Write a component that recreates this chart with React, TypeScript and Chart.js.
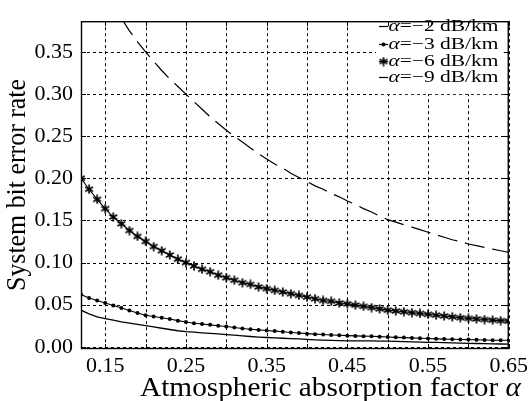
import React, { useEffect, useRef } from "react";
import { Chart, registerables } from "chart.js";

Chart.register(...registerables);

// ---- data ----
const xValues = [
  0.12, 0.13, 0.14, 0.15, 0.16, 0.17, 0.18, 0.19, 0.2, 0.21, 0.22, 0.23, 0.24, 0.25,
  0.26, 0.27, 0.28, 0.29, 0.3, 0.31, 0.32, 0.33, 0.34, 0.35, 0.36, 0.37, 0.38, 0.39,
  0.4, 0.41, 0.42, 0.43, 0.44, 0.45, 0.46, 0.47, 0.48, 0.49, 0.5, 0.51, 0.52, 0.53,
  0.54, 0.55, 0.56, 0.57, 0.58, 0.59, 0.6, 0.61, 0.62, 0.63, 0.64, 0.65,
];

const berMinus2 = [
  0.0434, 0.039, 0.0355, 0.0335, 0.0315, 0.0295, 0.028, 0.0265, 0.025, 0.0235, 0.022,
  0.0205, 0.019, 0.018, 0.0173, 0.0166, 0.016, 0.0153, 0.0145, 0.0138, 0.013, 0.0122,
  0.0115, 0.011, 0.0105, 0.0101, 0.0097, 0.0093, 0.0088, 0.0083, 0.0078, 0.0075, 0.0072,
  0.0071, 0.007, 0.0069, 0.0069, 0.0068, 0.0066, 0.0064, 0.0061, 0.0058, 0.0056, 0.0053,
  0.0051, 0.0048, 0.0046, 0.0043, 0.0041, 0.0039, 0.0037, 0.0035, 0.0033, 0.0031,
];

const berMinus3 = [
  0.062, 0.058, 0.055, 0.052, 0.049, 0.046, 0.043, 0.04, 0.0375, 0.036, 0.0345, 0.033,
  0.031, 0.0295, 0.028, 0.027, 0.026, 0.025, 0.024, 0.0228, 0.0217, 0.0208, 0.02, 0.0193,
  0.0186, 0.0178, 0.017, 0.0163, 0.0156, 0.015, 0.0145, 0.014, 0.0136, 0.0132, 0.0129,
  0.0126, 0.0124, 0.012, 0.0116, 0.0112, 0.0109, 0.0105, 0.0101, 0.0098, 0.0094, 0.0091,
  0.0089, 0.0087, 0.0085, 0.0083, 0.008, 0.0078, 0.0077, 0.0077,
];

const berMinus6 = [
  0.2, 0.187, 0.175, 0.164, 0.154, 0.146, 0.138, 0.131, 0.125, 0.119, 0.114, 0.109, 0.104,
  0.1, 0.096, 0.092, 0.089, 0.085, 0.082, 0.079, 0.076, 0.074, 0.071, 0.069, 0.067, 0.065,
  0.063, 0.061, 0.059, 0.057, 0.055, 0.054, 0.052, 0.051, 0.0495, 0.048, 0.0465, 0.045,
  0.0435, 0.0425, 0.0415, 0.0405, 0.0395, 0.0385, 0.0375, 0.0365, 0.0355, 0.0345, 0.0337,
  0.033, 0.0323, 0.0316, 0.031, 0.0305,
];

const berMinus9 = [
  null, null, null, null, null, 0.39, 0.375, 0.362, 0.35, 0.339, 0.328, 0.318, 0.309, 0.3,
  0.291, 0.282, 0.273, 0.265, 0.257, 0.25, 0.243, 0.236, 0.229, 0.223, 0.217, 0.212, 0.206,
  0.201, 0.196, 0.191, 0.187, 0.182, 0.178, 0.173, 0.169, 0.164, 0.16, 0.155, 0.151, 0.148,
  0.145, 0.142, 0.139, 0.136, 0.133, 0.13, 0.127, 0.125, 0.122, 0.12, 0.118, 0.116, 0.114,
  0.112,
];

const seriesLabels = ["−2", "−3", "−6", "−9"];
const xGridTicks = [0.15, 0.2, 0.25, 0.3, 0.35, 0.4, 0.45, 0.5, 0.55, 0.6, 0.65];
const xLabelTicks = [0.15, 0.25, 0.35, 0.45, 0.55, 0.65];
const yTicks = [0, 0.05, 0.1, 0.15, 0.2, 0.25, 0.3, 0.35];

const X_MIN = 0.12;
const X_MAX = 0.65;
const Y_MIN = -0.00265;
const Y_MAX = 0.3865;

const FONT = "'Liberation Serif', 'DejaVu Serif', serif";

function makeAsterisk(size: number, lw: number): HTMLCanvasElement {
  const c = document.createElement("canvas");
  c.width = size;
  c.height = size;
  const g = c.getContext("2d")!;
  const r = size / 2 - 0.5;
  const cx = size / 2;
  g.strokeStyle = "#000";
  g.lineWidth = lw;
  for (const ang of [90, 30, 150]) {
    const a = (ang * Math.PI) / 180;
    g.beginPath();
    g.moveTo(cx - r * Math.cos(a), cx - r * Math.sin(a));
    g.lineTo(cx + r * Math.cos(a), cx + r * Math.sin(a));
    g.stroke();
  }
  return c;
}

const pairs = (ys: (number | null)[]) =>
  xValues.map((x, i) => ({ x, y: ys[i] })).filter((p) => p.y !== null);

// draw prefix + italic "α" + rest, stretched horizontally to a target width
function drawAlphaText(
  ctx: CanvasRenderingContext2D,
  prefix: string,
  rest: string,
  size: number,
  targetWidth: number
) {
  ctx.font = `${size}px ${FONT}`;
  const pw = ctx.measureText(prefix).width;
  const rw = ctx.measureText(rest).width;
  ctx.font = `italic ${size}px ${FONT}`;
  const aw = ctx.measureText("α").width;
  const total = pw + aw + rw;
  const sx = targetWidth / total;
  ctx.save();
  ctx.scale(sx, 1);
  let x = 0;
  ctx.font = `${size}px ${FONT}`;
  ctx.fillText(prefix, x, 0);
  x += pw;
  ctx.font = `italic ${size}px ${FONT}`;
  ctx.fillText("α", x, 0);
  x += aw;
  ctx.font = `${size}px ${FONT}`;
  ctx.fillText(rest, x, 0);
  ctx.restore();
}

export default function App() {
  const ref = useRef<HTMLCanvasElement | null>(null);

  useEffect(() => {
    document.body.style.margin = "0";
    const canvas = ref.current!;
    const star = makeAsterisk(10, 1.7);

    const framePlugin = {
      id: "framePlugin",
      beforeDatasetsDraw(chart: any) {
        const { ctx, chartArea: a, scales } = chart;
        ctx.save();
        ctx.strokeStyle = "#000";
        ctx.lineWidth = 1;
        ctx.setLineDash([3, 3]);
        for (const v of xGridTicks) {
          const px = Math.round(scales.x.getPixelForValue(v)) + 0.5;
          ctx.beginPath();
          ctx.moveTo(px, a.top);
          ctx.lineTo(px, a.bottom);
          ctx.stroke();
        }
        for (const v of yTicks) {
          const py = Math.round(scales.y.getPixelForValue(v)) + 0.5;
          ctx.beginPath();
          ctx.moveTo(a.left, py);
          ctx.lineTo(a.right, py);
          ctx.stroke();
        }
        ctx.restore();
      },
      afterDatasetsDraw(chart: any) {
        const { ctx, chartArea: a } = chart;
        // legend
        ctx.save();
        ctx.fillStyle = "#fff";
        ctx.fillRect(376, a.top + 1, 130, 72);
        const baselines = [31, 48.5, 65.5, 82];
        for (let i = 0; i < 4; i++) {
          const b = baselines[i];
          const ym = Math.round(b - 5) + 0.5;
          ctx.strokeStyle = "#000";
          ctx.lineWidth = 1.2;
          ctx.setLineDash([]);
          ctx.beginPath();
          ctx.moveTo(379, ym);
          ctx.lineTo(388, ym);
          ctx.stroke();
          if (i === 1) {
            ctx.fillStyle = "#000";
            ctx.beginPath();
            ctx.arc(383.5, ym, 2, 0, Math.PI * 2);
            ctx.fill();
          }
          if (i === 2) {
            ctx.drawImage(star, 378.5, ym - 5);
          }
          ctx.fillStyle = "#000";
          ctx.textBaseline = "alphabetic";
          ctx.textAlign = "left";
          ctx.save();
          ctx.translate(388.5, b);
          drawAlphaText(ctx, "", "=" + seriesLabels[i] + " dB/km", 16, 110);
          ctx.restore();
        }
        ctx.restore();
      },
      afterDraw(chart: any) {
        const { ctx, chartArea: a, scales } = chart;
        ctx.save();
        ctx.strokeStyle = "#000";
        ctx.lineWidth = 1.4;
        ctx.setLineDash([]);
        ctx.strokeRect(a.left + 0.5, a.top + 0.5, a.right - a.left - 1, a.bottom - a.top - 1);
        ctx.lineWidth = 1;
        for (const v of xGridTicks) {
          const px = Math.round(scales.x.getPixelForValue(v)) + 0.5;
          ctx.beginPath();
          ctx.moveTo(px, a.bottom);
          ctx.lineTo(px, a.bottom - 5);
          ctx.moveTo(px, a.top);
          ctx.lineTo(px, a.top + 5);
          ctx.stroke();
        }
        for (const v of yTicks) {
          const py = Math.round(scales.y.getPixelForValue(v)) + 0.5;
          ctx.beginPath();
          ctx.moveTo(a.left, py);
          ctx.lineTo(a.left + 5, py);
          ctx.moveTo(a.right, py);
          ctx.lineTo(a.right - 5, py);
          ctx.stroke();
        }
        // axis titles
        ctx.fillStyle = "#000";
        ctx.textBaseline = "alphabetic";
        ctx.textAlign = "left";
        ctx.save();
        ctx.translate(140, 396);
        drawAlphaText(ctx, "Atmospheric absorption factor ", "", 27, 381);
        ctx.restore();

        ctx.save();
        ctx.font = `27px ${FONT}`;
        const tw = ctx.measureText("System bit error rate").width;
        ctx.translate(25, 185);
        ctx.rotate(-Math.PI / 2);
        ctx.scale(212 / tw, 1);
        ctx.textAlign = "center";
        ctx.fillText("System bit error rate", 0, 0);
        ctx.restore();
        ctx.restore();
      },
    };

    const chart = new Chart(canvas, {
      type: "line",
      data: {
        datasets: [
          {
            label: "α=−2 dB/km",
            data: pairs(berMinus2) as any,
            borderColor: "#000",
            borderWidth: 1.3,
            pointRadius: 0,
            tension: 0,
          },
          {
            label: "α=−3 dB/km",
            data: pairs(berMinus3) as any,
            borderColor: "#000",
            backgroundColor: "#000",
            borderWidth: 1.1,
            pointRadius: 2,
            pointStyle: "circle",
            pointBorderWidth: 0,
            tension: 0,
          },
          {
            label: "α=−6 dB/km",
            data: pairs(berMinus6) as any,
            borderColor: "#000",
            borderWidth: 1.1,
            pointStyle: star as any,
            pointRadius: 5,
            tension: 0,
          },
          {
            label: "α=−9 dB/km",
            data: pairs(berMinus9) as any,
            borderColor: "#000",
            borderWidth: 1.2,
            borderDash: [20, 8],
            pointRadius: 0,
            tension: 0,
          },
        ],
      },
      options: {
        animation: false,
        responsive: false,
        maintainAspectRatio: false,
        layout: { padding: { top: 11, right: 21, left: 0, bottom: 0 } },
        plugins: { legend: { display: false }, tooltip: { enabled: false } },
        scales: {
          x: {
            type: "linear",
            min: X_MIN,
            max: X_MAX,
            afterBuildTicks: (s: any) => {
              s.ticks = xGridTicks.map((v) => ({ value: v }));
            },
            afterFit: (s: any) => {
              s.height = 52;
            },
            grid: { display: false, drawTicks: false },
            border: { display: false },
            ticks: {
              autoSkip: false,
              maxRotation: 0,
              padding: 4,
              color: "#000",
              font: { family: FONT, size: 22 },
              callback: (v: any) =>
                xLabelTicks.some((t) => Math.abs(t - Number(v)) < 1e-6) ? Number(v).toFixed(2) : "",
            },
          },
          y: {
            type: "linear",
            min: Y_MIN,
            max: Y_MAX,
            afterBuildTicks: (s: any) => {
              s.ticks = yTicks.map((v) => ({ value: v }));
            },
            afterFit: (s: any) => {
              s.width = 81;
            },
            grid: { display: false, drawTicks: false },
            border: { display: false },
            ticks: {
              padding: 8,
              color: "#000",
              font: { family: FONT, size: 22 },
              callback: (v: any) => Number(v).toFixed(2),
            },
          },
        },
      },
      plugins: [framePlugin],
    });

    return () => chart.destroy();
  }, []);

  return (
    <div style={{ width: 532, height: 401, background: "#fff" }}>
      <canvas ref={ref} width={532} height={401} style={{ display: "block" }} />
    </div>
  );
}
